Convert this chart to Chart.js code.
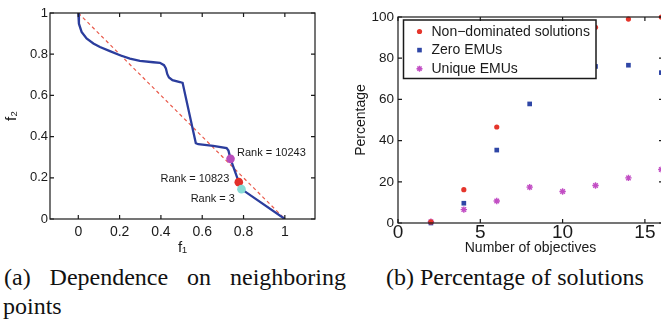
<!DOCTYPE html>
<html>
<head>
<meta charset="utf-8">
<script src="https://cdn.jsdelivr.net/npm/chart.js@4.4.1/dist/chart.umd.min.js"></script>
<style>
    body {
        margin: 0;
        width: 661px;
        height: 320px;
        overflow: hidden;
        background: #fff;
        position: relative;
    }

    canvas {
        position: absolute;
        top: 0;
    }

    .caption {
        position: absolute;
        font-family: "Liberation Serif", "Times New Roman", serif;
        font-size: 24px;
        line-height: 28.6px;
        color: #111;
        white-space: nowrap;
    }

    .justify {
        text-align: justify;
        text-align-last: justify;
    }
</style>
</head>
<body>
<canvas id="frontChart" width="330" height="260" style="left:0"></canvas>
<canvas id="percentChart" width="340" height="260" style="left:330px"></canvas>
<div class="caption justify" style="left:4px; top:263px; width:342px;">(a) Dependence on neighboring</div>
<div class="caption" style="left:3px; top:291.6px;">points</div>
<div class="caption" style="left:386px; top:263px;">(b) Percentage of solutions</div>

<script>
// ---------- (a) front ----------
let curveX = [0, 0.003, 0.016, 0.040, 0.073, 0.105, 0.153, 0.202, 0.250, 0.298, 0.363, 0.395, 0.415, 0.424, 0.431, 0.439, 0.456, 0.492, 0.505, 0.569, 0.581, 0.653, 0.718, 0.727, 0.737, 0.777, 0.790, 1.0];
let curveY = [1, 0.948, 0.908, 0.876, 0.852, 0.835, 0.815, 0.795, 0.779, 0.768, 0.761, 0.758, 0.747, 0.731, 0.703, 0.687, 0.674, 0.665, 0.661, 0.368, 0.363, 0.355, 0.344, 0.332, 0.292, 0.179, 0.145, 0];
let diagX = [0, 1];
let diagY = [1, 0];
let rankX = [0.737, 0.777, 0.790];
let rankY = [0.292, 0.179, 0.145];
let rankLabels = ['Rank = 10243', 'Rank = 10823', 'Rank = 3'];
let rankColors = ['#b84cbb', '#e2302a', '#88dcd6'];
let frontTicks = [0, 0.2, 0.4, 0.6, 0.8, 1];

// ---------- (b) percentages ----------
let objectives = [2, 4, 6, 8, 10, 12, 14, 16];
let nonDominated = [0.5, 16.2, 46.6, 80, 92, 95, 99, 100];
let zeroEmus = [0, 9.6, 35.4, 57.8, 74, 76, 76.6, 73];
let uniqueEmus = [0.6, 6.5, 10.7, 17.4, 15.3, 18.2, 21.9, 26];
let seriesNames = ['Non\u2212dominated solutions', 'Zero EMUs', 'Unique EMUs'];
let objectiveTicks = [0, 5, 10, 15];
let percentTicks = [0, 20, 40, 60, 80, 100];

const FONT = '"Liberation Sans", Arial, Helvetica, sans-serif';
const INK = '#1a1a1a';


function toPoints(xs, ys) {
    let pts = [];
    for (let i = 0; i < xs.length; i++) {
        pts.push({ x: xs[i], y: ys[i] });
    }
    return pts;
}

function fixedTicks(values) {
    return function (scale) {
        scale.ticks = values.map(v => ({ value: v }));
    };
}

// matlab style box with inward ticks on all four sides
const boxPlugin = {
    id: 'boxPlugin',
    afterDraw(chart) {
        let ctx = chart.ctx;
        let a = chart.chartArea;
        let sx = chart.scales.x;
        let sy = chart.scales.y;
        let len = 4;
        ctx.save();
        ctx.strokeStyle = INK;
        ctx.lineWidth = 1.2;
        ctx.strokeRect(a.left, a.top, a.right - a.left, a.bottom - a.top);
        ctx.beginPath();
        sx.ticks.forEach(t => {
            let p = sx.getPixelForValue(t.value);
            ctx.moveTo(p, a.bottom);
            ctx.lineTo(p, a.bottom - len);
            ctx.moveTo(p, a.top);
            ctx.lineTo(p, a.top + len);
        });
        sy.ticks.forEach(t => {
            let p = sy.getPixelForValue(t.value);
            ctx.moveTo(a.left, p);
            ctx.lineTo(a.left + len, p);
            ctx.moveTo(a.right, p);
            ctx.lineTo(a.right - len, p);
        });
        ctx.stroke();
        ctx.restore();
    }
};

const rankLabelPlugin = {
    id: 'rankLabels',
    afterDatasetsDraw(chart) {
        let ctx = chart.ctx;
        let sx = chart.scales.x;
        let sy = chart.scales.y;
        // offsets from each point: [dx, dy, align]
        let offsets = [[6.5, -5.5, 'left'], [-9.5, -3, 'right'], [-6.5, 10, 'right']];
        ctx.save();
        ctx.font = '11px ' + FONT;
        ctx.fillStyle = INK;
        ctx.textBaseline = 'middle';
        for (let i = 0; i < rankLabels.length; i++) {
            let px = sx.getPixelForValue(rankX[i]);
            let py = sy.getPixelForValue(rankY[i]);
            ctx.textAlign = offsets[i][2];
            ctx.fillText(rankLabels[i], px + offsets[i][0], py + offsets[i][1]);
        }
        ctx.restore();
    }
};

function drawMarker(ctx, style, color, x, y) {
    ctx.fillStyle = color;
    ctx.strokeStyle = color;
    if (style == 'circle') {
        ctx.beginPath();
        ctx.arc(x, y, 2.6, 0, Math.PI * 2);
        ctx.fill();
    } else if (style == 'rect') {
        ctx.fillRect(x - 2.3, y - 2.3, 4.6, 4.6);
    } else {
        ctx.lineWidth = 1.4;
        ctx.beginPath();
        for (let k = 0; k < 4; k++) {
            let ang = k * Math.PI / 4;
            ctx.moveTo(x - 3 * Math.cos(ang), y - 3 * Math.sin(ang));
            ctx.lineTo(x + 3 * Math.cos(ang), y + 3 * Math.sin(ang));
        }
        ctx.stroke();
    }
}

const legendPlugin = {
    id: 'legendBox',
    afterDatasetsDraw(chart) {
        let ctx = chart.ctx;
        ctx.save();
        ctx.fillStyle = '#fff';
        ctx.fillRect(73.5, 20, 192.5, 58.5);
        ctx.strokeStyle = INK;
        ctx.lineWidth = 1.5;
        ctx.strokeRect(73.5, 20, 192.5, 58.5);
        ctx.font = '14px ' + FONT;
        ctx.textBaseline = 'middle';
        ctx.textAlign = 'left';
        chart.data.datasets.forEach((ds, i) => {
            let y = 31.5 + i * 18.6;
            drawMarker(ctx, ds.pointStyle, ds.borderColor, 89.5, y);
            ctx.fillStyle = INK;
            ctx.fillText(ds.label, 101.5, y + 0.5);
        });
        ctx.restore();
    }
};


function frontChart() {
    const data = {
        datasets: [{
            label: 'rank',
            data: toPoints(rankX, rankY),
            backgroundColor: rankColors,
            borderWidth: 0,
            pointRadius: 4.3,
            order: 0
        }, {
            label: 'front',
            data: toPoints(curveX, curveY),
            showLine: true,
            borderColor: '#2b3d9d',
            borderWidth: 2.3,
            pointRadius: 0,
            order: 1
        }, {
            label: 'diagonal',
            data: toPoints(diagX, diagY),
            showLine: true,
            borderColor: '#e9594a',
            borderWidth: 1.2,
            borderDash: [3.5, 3],
            pointRadius: 0,
            order: 2
        }]
    };

    const config = {
        type: 'scatter',
        data: data,
        plugins: [boxPlugin, rankLabelPlugin],
        options: {
            responsive: false,
            animation: false,
            devicePixelRatio: 1,
            layout: { padding: { top: 13, right: 15, left: 0, bottom: 0 } },
            plugins: { legend: { display: false }, tooltip: { enabled: false } },
            scales: {
                x: {
                    min: -0.137,
                    max: 1.146,
                    afterBuildTicks: fixedTicks(frontTicks),
                    afterFit: function (scale) { scale.height = 41; },
                    grid: { display: false, drawTicks: false },
                    border: { display: false },
                    ticks: {
                        color: INK,
                        padding: 5,
                        font: { family: FONT, size: 14 },
                        maxRotation: 0,
                        callback: v => String(+v.toFixed(1))
                    },
                    title: {
                        display: true,
                        text: 'f\u2081',
                        color: INK,
                        padding: { top: 0, bottom: 3 },
                        font: { family: FONT, size: 15 }
                    }
                },
                y: {
                    min: 0,
                    max: 1,
                    afterBuildTicks: fixedTicks(frontTicks),
                    afterFit: function (scale) { scale.width = 50; },
                    grid: { display: false, drawTicks: false },
                    border: { display: false },
                    ticks: {
                        color: INK,
                        padding: 2,
                        font: { family: FONT, size: 13 },
                        callback: v => String(+v.toFixed(1))
                    },
                    title: {
                        display: true,
                        text: 'f\u2082',
                        color: INK,
                        padding: { top: 3, bottom: 0 },
                        font: { family: FONT, size: 15 }
                    }
                }
            }
        }
    };

    new Chart(document.getElementById('frontChart'), config);
}


function percentChart() {
    const data = {
        datasets: [{
            label: seriesNames[0],
            data: toPoints(objectives, nonDominated),
            pointStyle: 'circle',
            pointRadius: 2.6,
            backgroundColor: '#e5352b',
            borderColor: '#e5352b',
            borderWidth: 0
        }, {
            label: seriesNames[1],
            data: toPoints(objectives, zeroEmus),
            pointStyle: 'rect',
            pointRadius: 3.3,
            backgroundColor: '#2f46a6',
            borderColor: '#2f46a6',
            borderWidth: 0
        }, {
            label: seriesNames[2],
            data: toPoints(objectives, uniqueEmus),
            pointStyle: 'star',
            pointRadius: 3.2,
            backgroundColor: '#c24ec4',
            borderColor: '#c24ec4',
            borderWidth: 1.4
        }]
    };

    const config = {
        type: 'scatter',
        data: data,
        plugins: [legendPlugin, boxPlugin],
        options: {
            responsive: false,
            animation: false,
            devicePixelRatio: 1,
            clip: false,
            layout: { padding: { top: 17, right: 7, left: 0, bottom: 0 } },
            plugins: { legend: { display: false }, tooltip: { enabled: false } },
            scales: {
                x: {
                    min: 0,
                    max: 16.1,
                    afterBuildTicks: fixedTicks(objectiveTicks),
                    afterFit: function (scale) { scale.height = 37; },
                    grid: { display: false, drawTicks: false },
                    border: { display: false },
                    ticks: {
                        color: INK,
                        padding: 0,
                        maxRotation: 0,
                        font: { family: FONT, size: 19, lineHeight: 1 }
                    },
                    title: {
                        display: true,
                        text: 'Number of objectives',
                        color: INK,
                        padding: { top: 0, bottom: 3 },
                        font: { family: FONT, size: 14 }
                    }
                },
                y: {
                    min: 0,
                    max: 100,
                    afterBuildTicks: fixedTicks(percentTicks),
                    afterFit: function (scale) { scale.width = 68; },
                    grid: { display: false, drawTicks: false },
                    border: { display: false },
                    ticks: {
                        color: INK,
                        padding: 4,
                        font: { family: FONT, size: 13.5 }
                    },
                    title: {
                        display: true,
                        text: 'Percentage',
                        color: INK,
                        padding: { top: 23, bottom: 0 },
                        font: { family: FONT, size: 14 }
                    }
                }
            }
        }
    };

    new Chart(document.getElementById('percentChart'), config);
}

frontChart();
percentChart();
</script>
</body>
</html>
